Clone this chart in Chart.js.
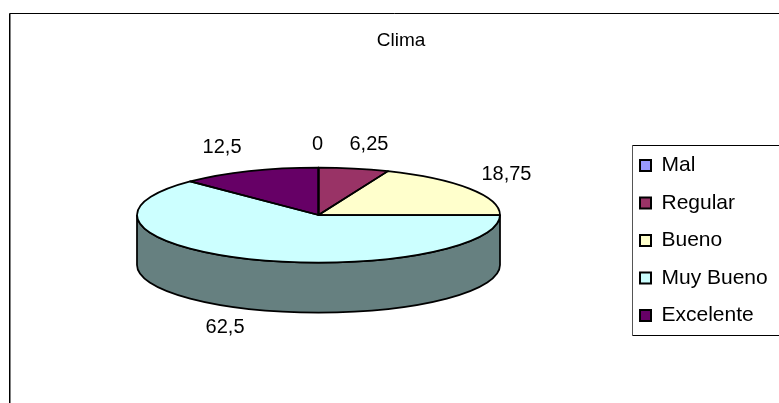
<!DOCTYPE html>
<html>
<head>
<meta charset="utf-8">
<title>Clima</title>
<script src="https://cdn.jsdelivr.net/npm/chart.js@4"></script>
<style>
  html, body { margin: 0; padding: 0; background: #fff; overflow: hidden; }
  canvas { display: block; }
</style>
</head>
<body>
<canvas id="myChart" width="779" height="403"></canvas>
<script>
const chartTitle = "Clima";
const categories = ["Mal", "Regular", "Bueno", "Muy Bueno", "Excelente"];
const seriesValues = [0, 6.25, 18.75, 62.5, 12.5];
const sliceColors = ["#9999FF", "#993366", "#FFFFCC", "#CCFFFF", "#660066"];

const fontFamily = "'Liberation Sans', Arial, sans-serif";
const tilt = 47.5 / 181.5;
const depth = 50;
// nudges from the rim of each slice to its value label
const labelNudges = [[-1, -23], [15, -24], [37, -14], [-24, 69], [-27, -24]];

function darker(hex) {
  let parts = [1, 3, 5].map((i) => Math.round(parseInt(hex.substr(i, 2), 16) / 2));
  return "rgb(" + parts.join(",") + ")";
}

const piePlugin = {
  id: "tiltedPie",
  beforeDraw(chart) {
    let ctx = chart.ctx;
    ctx.save();
    ctx.fillStyle = "#fff";
    ctx.fillRect(0, 0, chart.width, chart.height);
    ctx.lineWidth = 1;
    ctx.strokeStyle = "#000";
    ctx.beginPath();
    ctx.moveTo(9.5, 403);
    ctx.lineTo(9.5, 13.5);
    ctx.lineTo(779, 13.5);
    ctx.stroke();
    ctx.strokeStyle = "#808080";
    ctx.beginPath();
    ctx.moveTo(10.5, 403);
    ctx.lineTo(10.5, 14);
    ctx.stroke();
    // legend frame
    ctx.strokeStyle = "#000";
    ctx.beginPath();
    ctx.moveTo(779, 145.5);
    ctx.lineTo(632.5, 145.5);
    ctx.moveTo(632, 335.5);
    ctx.lineTo(779, 335.5);
    ctx.stroke();
    ctx.strokeStyle = "#555";
    ctx.beginPath();
    ctx.moveTo(632.5, 145);
    ctx.lineTo(632.5, 336);
    ctx.stroke();
    ctx.restore();
  },
  afterLayout(chart) {
    chart.chartArea = { left: 137, top: 33.5, right: 500, bottom: 396.5, width: 363, height: 363 };
    let legend = chart.legend;
    legend.left = 623.5;
    legend.right = 779;
    legend.top = 138.5;
    legend.bottom = 400;
    let title = chart.titleBlock;
    title.left = 300;
    title.right = 502;
    title.top = 29;
  },
  beforeDatasetsDraw(chart) {
    let ctx = chart.ctx;
    let arcs = chart.getDatasetMeta(0).data;
    ctx.save();
    ctx.lineWidth = 1.75;
    ctx.strokeStyle = "#000";
    arcs.forEach((arc, i) => {
      let from = Math.max(arc.startAngle, 0);
      let to = Math.min(arc.endAngle, Math.PI);
      if (to <= from) return;
      let r = arc.outerRadius;
      ctx.fillStyle = darker(sliceColors[i]);
      ctx.beginPath();
      ctx.ellipse(arc.x, arc.y, r, r * tilt, 0, from, to);
      ctx.ellipse(arc.x, arc.y + depth, r, r * tilt, 0, to, from, true);
      ctx.closePath();
      ctx.fill();
      ctx.stroke();
    });
    ctx.restore();

    let first = arcs[0];
    ctx.save();
    ctx.translate(first.x, first.y);
    ctx.scale(1, tilt);
    ctx.translate(-first.x, -first.y);
  },
  afterDatasetsDraw(chart) {
    let ctx = chart.ctx;
    ctx.restore();
    let arcs = chart.getDatasetMeta(0).data;
    ctx.save();
    ctx.lineWidth = 1.75;
    ctx.strokeStyle = "#000";
    ctx.lineJoin = "round";
    arcs.forEach((arc) => {
      let r = arc.outerRadius;
      ctx.beginPath();
      ctx.moveTo(arc.x, arc.y);
      ctx.ellipse(arc.x, arc.y, r, r * tilt, 0, arc.startAngle, arc.endAngle);
      ctx.closePath();
      ctx.stroke();
    });
    ctx.restore();
  },
  afterDraw(chart) {
    let ctx = chart.ctx;
    let arcs = chart.getDatasetMeta(0).data;
    ctx.save();
    ctx.font = "20px " + fontFamily;
    ctx.fillStyle = "#000";
    ctx.textAlign = "center";
    ctx.textBaseline = "middle";
    arcs.forEach((arc, i) => {
      let mid = (arc.startAngle + arc.endAngle) / 2;
      let x = arc.x + arc.outerRadius * Math.cos(mid);
      let y = arc.y + arc.outerRadius * tilt * Math.sin(mid);
      let text = String(seriesValues[i]).replace(".", ",");
      ctx.fillText(text, x + labelNudges[i][0], y + labelNudges[i][1]);
    });
    ctx.restore();
  }
};

let myChart = document.getElementById("myChart").getContext("2d");

let pieChart = new Chart(myChart, {
  type: "pie",
  data: {
    labels: categories,
    datasets: [{
      data: seriesValues,
      backgroundColor: sliceColors,
      borderWidth: 0
    }]
  },
  options: {
    responsive: false,
    animation: false,
    plugins: {
      title: {
        display: true,
        text: chartTitle,
        color: "#000",
        padding: 0,
        font: { family: fontFamily, size: 19, weight: "normal" }
      },
      legend: {
        position: "right",
        align: "start",
        labels: {
          color: "#000",
          boxWidth: 11,
          boxHeight: 11,
          padding: 16.5,
          font: { family: fontFamily, size: 21 },
          generateLabels(chart) {
            let items = Chart.overrides.pie.plugins.legend.labels.generateLabels(chart);
            items.forEach((item) => {
              item.strokeStyle = "#000";
              item.lineWidth = 2;
            });
            return items;
          }
        }
      },
      tooltip: { enabled: false }
    }
  },
  plugins: [piePlugin]
});
</script>
</body>
</html>
